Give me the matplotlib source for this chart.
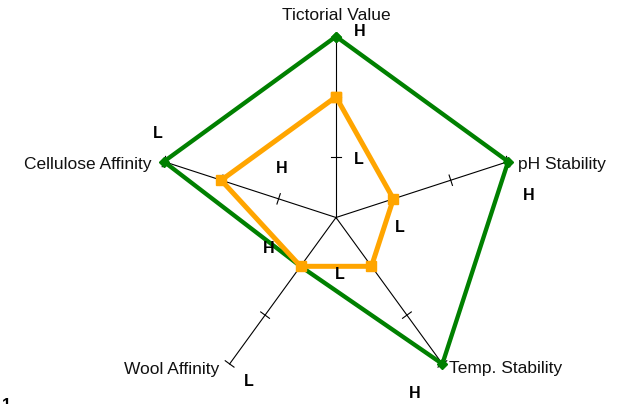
import numpy as np
import matplotlib
matplotlib.use("Agg")
import matplotlib.pyplot as plt

plt.rcParams["font.family"] = ["Liberation Sans", "DejaVu Sans"]

# --- data -------------------------------------------------------------
categories = ["Tictorial Value", "pH Stability", "Temp. Stability",
              "Wool Affinity", "Cellulose Affinity"]
green_values = [3, 3, 3, 1, 3]
orange_values = [2, 1, 1, 1, 2]
scale_ticks = [1, 2, 3]
outer_marks = ["H", "H", "H", "L", "L"]   # text at the top of each scale
inner_marks = ["L", "L", "L", "H", "H"]   # text at the first tick

# --- layout (pixel offsets, figure is 625x404 at 100 dpi) -------------
label_offsets = [(0, 16, "center"), (10, -7, "left"), (7, -9, "left"),
                 (-10, -10, "right"), (-12, -7, "right")]
outer_offsets = [(24, 5), (21, -34), (-28, -30), (19, -18), (-6, 28)]
inner_offsets = [(23, -2), (6, -29), (-32, -8), (-32, 18), (3, 30)]

unit = 181 / 3.0            # pixels per scale step
cx, cy = 336, 404 - 217.5   # centre in pixels from bottom-left

fig = plt.figure(figsize=(6.25, 4.04), dpi=100)
ax = fig.add_axes([0, 0, 1, 1])
ax.set_xlim(-cx / unit, (625 - cx) / unit)
ax.set_ylim(-cy / unit, (404 - cy) / unit)
ax.axis("off")

n = len(categories)
angles = np.deg2rad(90 - 72 * np.arange(n))
top = max(scale_ticks)


def to_xy(values):
    v = np.asarray(values, dtype=float)
    return v * np.cos(angles), v * np.sin(angles)


# spokes and small cross ticks
for a in angles:
    ax.plot([0, top * np.cos(a)], [0, top * np.sin(a)], color="black",
            lw=0.8, zorder=1)
    px, py = -np.sin(a), np.cos(a)
    for t in scale_ticks:
        x0, y0 = t * np.cos(a), t * np.sin(a)
        h = 0.09
        ax.plot([x0 - h * px, x0 + h * px], [y0 - h * py, y0 + h * py],
                color="black", lw=0.8, zorder=1)

# series
gx, gy = to_xy(green_values)
ax.plot(np.append(gx, gx[0]), np.append(gy, gy[0]), color="green", lw=3.1,
        marker="D", markersize=5, zorder=2)
ox, oy = to_xy(orange_values)
ax.plot(np.append(ox, ox[0]), np.append(oy, oy[0]), color="orange", lw=3.6,
        marker="s", markersize=7.5, zorder=3)

# axis labels
ex, ey = to_xy([top] * n)
for i, name in enumerate(categories):
    dx, dy, ha = label_offsets[i]
    ax.annotate(name, (ex[i], ey[i]), xytext=(dx, dy),
                textcoords="offset pixels", ha=ha, va="baseline",
                fontsize=12.5, color="#111111")

# H / L marks
ix, iy = to_xy([scale_ticks[0]] * n)
for i in range(n):
    ax.annotate(outer_marks[i], (ex[i], ey[i]), xytext=outer_offsets[i],
                textcoords="offset pixels", ha="center", va="center",
                fontsize=11.5, fontweight="bold")
    ax.annotate(inner_marks[i], (ix[i], iy[i]), xytext=inner_offsets[i],
                textcoords="offset pixels", ha="center", va="center",
                fontsize=11.5, fontweight="bold")

# cut-off page marker in the corner
fig.text(0.003, 6 / 404, "1", ha="left", va="top", fontsize=12,
         fontweight="bold")

fig.savefig("out.png", dpi=100)
